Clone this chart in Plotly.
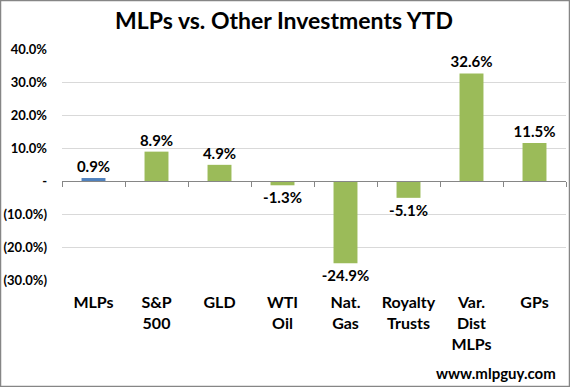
import plotly.graph_objects as go

categories = ["MLPs", "S&P<br>500", "GLD", "WTI<br>Oil", "Nat.<br>Gas", "Royalty<br>Trusts", "Var.<br>Dist<br>MLPs", "GPs"]
values = [0.9, 8.9, 4.9, -1.3, -24.9, -5.1, 32.6, 11.5]
colors = ["#4F81BD"] + ["#9BBB59"] * 7
ytick_vals = [40, 30, 20, 10, 0, -10, -20, -30]
ytick_text = ["40.0%", "30.0%", "20.0%", "10.0%", "-", "(10.0%)", "(20.0%)", "(30.0%)"]

FONT = "Lato"
xs = list(range(len(categories)))

fig = go.Figure()
fig.add_trace(go.Bar(
    x=xs, y=values, marker=dict(color=colors, line=dict(width=0)),
    text=[f"{v:.1f}%" for v in values], textposition="outside",
    textfont=dict(family=FONT, size=15, color="#000000", weight="bold"),
    constraintext="none", cliponaxis=False, showlegend=False, hoverinfo="skip",
))
# invisible trace for the zero-line category axis
fig.add_trace(go.Scatter(x=[-0.5, 7.5], y=[0, 0], xaxis="x2", mode="lines",
                         line=dict(width=0), showlegend=False, hoverinfo="skip"))

fig.update_layout(
    width=570, height=387,
    margin=dict(l=62, r=4, t=49, b=107, autoexpand=False),
    paper_bgcolor="white", plot_bgcolor="white",
    bargap=0.62,
    title=dict(text="MLPs vs. Other Investments YTD", x=284/570, xanchor="center",
               y=1 - 21/387, yanchor="middle",
               font=dict(family=FONT, size=23, color="#000000", weight="bold")),
    xaxis=dict(range=[-0.5, 7.5], tickvals=xs, ticktext=categories,
               tickfont=dict(family=FONT, size=16, color="#000000", weight="bold"),
               showgrid=False, zeroline=False, showline=False, ticks="",
               ticklabelstandoff=11, automargin=False),
    xaxis2=dict(range=[-0.5, 7.5], overlaying="x", anchor="free", position=3/7,
                tickvals=[i - 0.5 for i in range(9)], showticklabels=False,
                ticks="outside", ticklen=5, tickcolor="#868686", tickwidth=1,
                showline=True, linecolor="#868686", linewidth=1,
                showgrid=False, zeroline=False, automargin=False),
    yaxis=dict(range=[-30, 40], tickvals=ytick_vals, ticktext=ytick_text,
               tickfont=dict(family=FONT, size=13, color="#000000", weight="bold"),
               showgrid=True, gridcolor="#D9D9D9", gridwidth=1,
               zeroline=False, showline=False, ticks="", ticklabelstandoff=14,
               automargin=False),
    annotations=[dict(text="www.mlpguy.com", x=1 - 8/504, xanchor="right",
                      y=-(373 - 280)/231, yanchor="middle", xref="paper", yref="paper",
                      showarrow=False,
                      font=dict(family=FONT, size=15, color="#000000", weight="bold"))],
    shapes=[dict(type="rect", xref="paper", yref="paper",
                 x0=-61.5/504, x1=1 + 3.5/504, y0=-106.5/231, y1=1 + 48.5/231,
                 line=dict(color="#868686", width=1.5), fillcolor="rgba(0,0,0,0)", layer="above")],
)

fig.write_html("out.html", config={"displayModeBar": False},
               post_script="document.body.style.margin='0px';document.body.style.padding='0px';")
